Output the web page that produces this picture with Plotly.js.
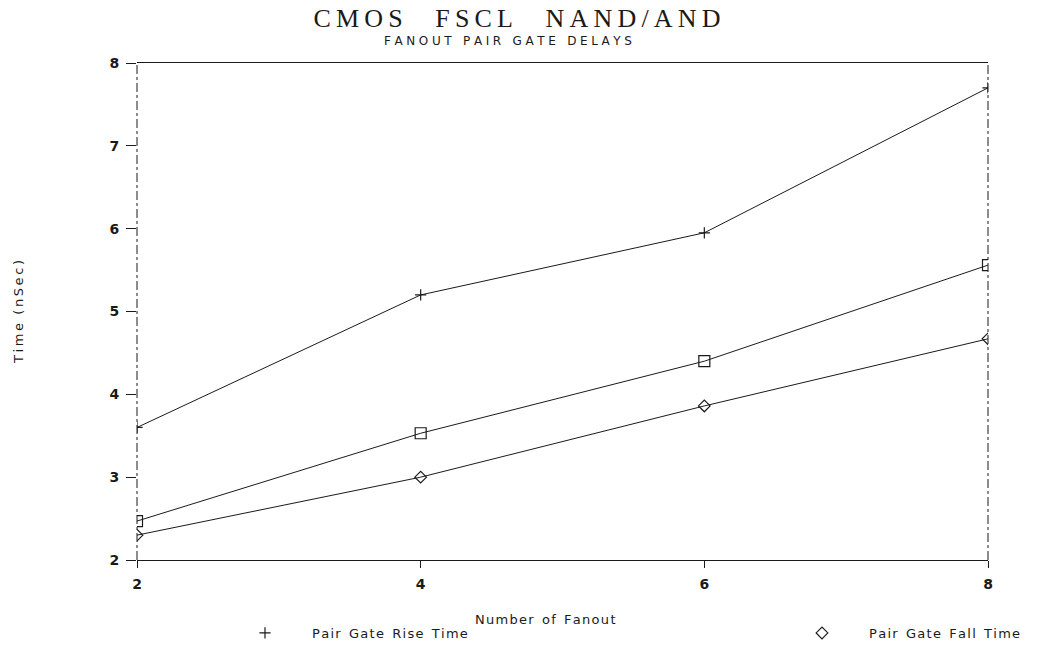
<!DOCTYPE html>
<html>
<head>
<meta charset="utf-8">
<script src="https://cdn.plot.ly/plotly-3.0.1.min.js"></script>
<style>html,body{margin:0;padding:0;background:#fff;}#chart{width:1043px;height:647px;}</style>
</head>
<body>
<div id="chart"></div>
<script>
// ---- data ----
const fanout = [2, 4, 6, 8];
const riseTime = [3.6, 5.2, 5.95, 7.7];
const pairDelay = [2.47, 3.53, 4.4, 5.56];
const fallTime = [2.3, 3.0, 3.86, 4.67];
const xTicks = [2, 4, 6, 8];
const yTicks = [2, 3, 4, 5, 6, 7, 8];
const titleText = "CMOS FSCL NAND/AND";
const subtitleText = "FANOUT PAIR GATE DELAYS";
const xTitle = "Number of Fanout";
const yTitle = "Time (nSec)";
const riseName = "Pair Gate Rise Time";
const pairName = "Pair Gate Delay";
const fallName = "Pair Gate Fall Time";

function spaced(s, sep, wordSep) {
  return s.split(" ").map(w => w.split("").join(sep)).join(wordSep);
}

const ink = "#1a1a1a";
const lineStyle = {color: ink, width: 1};
const sans = "DejaVu Sans, sans-serif";

const traces = [
  {x: fanout, y: riseTime, mode: "lines", line: lineStyle, showlegend: false, hoverinfo: "skip"},
  {x: fanout, y: pairDelay, mode: "lines", line: lineStyle, showlegend: false, hoverinfo: "skip"},
  {x: fanout, y: fallTime, mode: "lines", line: lineStyle, showlegend: false, hoverinfo: "skip"},
  {x: fanout, y: riseTime, mode: "markers", name: spaced(riseName, "\u200A", "\u00A0\u00A0"),
   legend: "legend",
   marker: {symbol: "cross-thin-open", size: 8, color: ink, line: {color: ink, width: 1.2}}},
  {x: fanout, y: pairDelay, mode: "markers", name: pairName, showlegend: false,
   marker: {symbol: "square-open", size: 11, color: ink, line: {color: ink, width: 1.2}}},
  {x: fanout, y: fallTime, mode: "markers", name: spaced(fallName, "\u200A", "\u00A0\u00A0"),
   legend: "legend2",
   marker: {symbol: "diamond-open", size: 9, color: ink, line: {color: ink, width: 1.2}}}
];

const legendCommon = {
  orientation: "h",
  xref: "container", xanchor: "left",
  yref: "container", y: 1 - 633/647, yanchor: "middle",
  itemwidth: 84,
  font: {family: sans, size: 13, color: ink},
  bgcolor: "rgba(0,0,0,0)"
};

const layout = {
  width: 1043, height: 647,
  margin: {l: 137, r: 55, t: 63, b: 87, autoexpand: false},
  paper_bgcolor: "#fff", plot_bgcolor: "#fff",
  title: {
    text: spaced(titleText, "\u2009", "\u00A0\u00A0\u00A0\u00A0\u00A0"),
    font: {family: "Liberation Serif, DejaVu Serif, serif", size: 26, color: ink},
    x: 517/1043, xref: "container", xanchor: "center",
    y: 1 - 18/647, yref: "container", yanchor: "middle"
  },
  annotations: [{
    text: spaced(subtitleText, "\u2009\u200A", "\u00A0\u00A0\u00A0"),
    xref: "paper", yref: "paper", x: (508-137)/851, y: 1 + (63-41)/497,
    xanchor: "center", yanchor: "middle", showarrow: false,
    font: {family: sans, size: 12, color: ink}
  }, {
    text: spaced(xTitle, "\u200A", "\u00A0\u00A0"),
    xref: "paper", yref: "paper", x: (545-137)/851, y: -(619-560)/497,
    xanchor: "center", yanchor: "middle", showarrow: false,
    font: {family: sans, size: 13, color: ink}
  }],
  xaxis: {
    range: [2, 8], tickvals: xTicks, ticktext: xTicks.map(String),
    showgrid: false, zeroline: false,
    showline: true, mirror: true, linecolor: ink, linewidth: 1,
    ticks: "outside", ticklen: 7, tickcolor: ink, tickwidth: 1,
    ticklabelstandoff: 4,
    tickfont: {family: sans, size: 14, color: ink, weight: "bold"}
  },
  yaxis: {
    range: [2, 8], tickvals: yTicks, ticktext: yTicks.map(String),
    showgrid: false, zeroline: false, showline: false,
    ticks: "outside", ticklen: 10, tickcolor: ink, tickwidth: 1,
    ticklabelstandoff: 4,
    tickfont: {family: sans, size: 14, color: ink, weight: "bold"},
    title: {text: spaced(yTitle, "\u2009", "\u00A0\u00A0"), standoff: 82,
            font: {family: sans, size: 13, color: ink}}
  },
  shapes: [
    {type: "line", xref: "paper", yref: "paper", x0: 0, x1: 0, y0: 0, y1: 1,
     line: {color: ink, width: 1, dash: "dashdot"}},
    {type: "line", xref: "paper", yref: "paper", x0: 1, x1: 1, y0: 0, y1: 1,
     line: {color: ink, width: 1, dash: "dashdot"}}
  ],
  showlegend: true,
  legend: Object.assign({}, legendCommon, {x: 218/1043}),
  legend2: Object.assign({}, legendCommon, {x: 775/1043})
};

Plotly.newPlot("chart", traces, layout, {displayModeBar: false, staticPlot: true});
</script>
</body>
</html>
